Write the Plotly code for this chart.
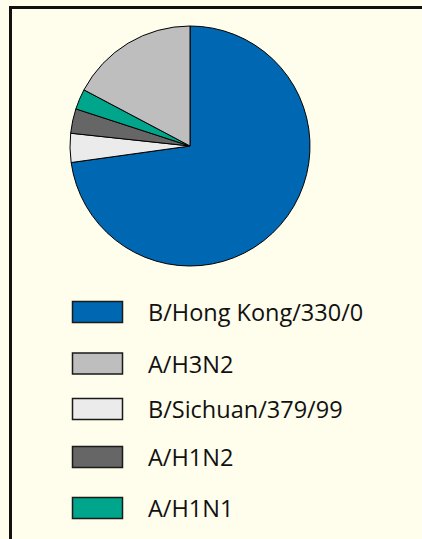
import plotly.graph_objects as go

# Data (pie order clockwise from 12 o'clock)
labels = ["B/Hong Kong/330/0", "B/Sichuan/379/99", "A/H1N2", "A/H1N1", "A/H3N2"]
values = [72.8, 3.9, 3.3, 2.75, 17.25]
colors = ["#0068B3", "#EBEBEB", "#666666", "#00A68B", "#BEBEBE"]

# Legend order as shown
legend_labels = ["B/Hong Kong/330/0", "A/H3N2", "B/Sichuan/379/99", "A/H1N2", "A/H1N1"]

W, H = 422, 539
BG = "#FFFDEB"

fig = go.Figure()
fig.add_trace(go.Pie(
    labels=labels, values=values, sort=False, direction="clockwise", rotation=0,
    marker=dict(colors=colors, line=dict(color="black", width=1)),
    textinfo="none", hoverinfo="label+percent", showlegend=False,
    domain=dict(x=[(190 - 120) / W, (190 + 120) / W], y=[1 - 266 / H, 1 - 26 / H]),
))

color_of = dict(zip(labels, colors))
shapes = []
annotations = []
# frame (cropped on right/bottom)
fx, fy = 10.5 / W, 1 - 7.5 / H
shapes.append(dict(type="path", xref="paper", yref="paper",
                   path=f"M {fx},0 L {fx},{fy} L 1,{fy}",
                   line=dict(color="#111111", width=3), layer="above"))
row_centers = [312, 363.5, 409, 457, 508]
for lab, yc in zip(legend_labels, row_centers):
    shapes.append(dict(type="rect", xref="paper", yref="paper",
                       x0=72.5 / W, x1=122.5 / W, y0=1 - (yc + 10.5) / H, y1=1 - (yc - 10.5) / H,
                       line=dict(color="#1a1a1a", width=1.5), fillcolor=color_of[lab]))
    annotations.append(dict(xref="paper", yref="paper", x=146 / W, y=1 - yc / H,
                            xanchor="left", yanchor="middle", showarrow=False, text=lab,
                            font=dict(family="Open Sans", size=23.5, color="#111111")))

fig.update_layout(
    width=W, height=H, margin=dict(l=0, r=0, t=0, b=0),
    paper_bgcolor=BG, plot_bgcolor=BG,
    shapes=shapes, annotations=annotations,
)
fig.write_html("out.html", config={"displayModeBar": False},
               post_script="document.body.style.margin='0';document.body.style.overflow='hidden';")
